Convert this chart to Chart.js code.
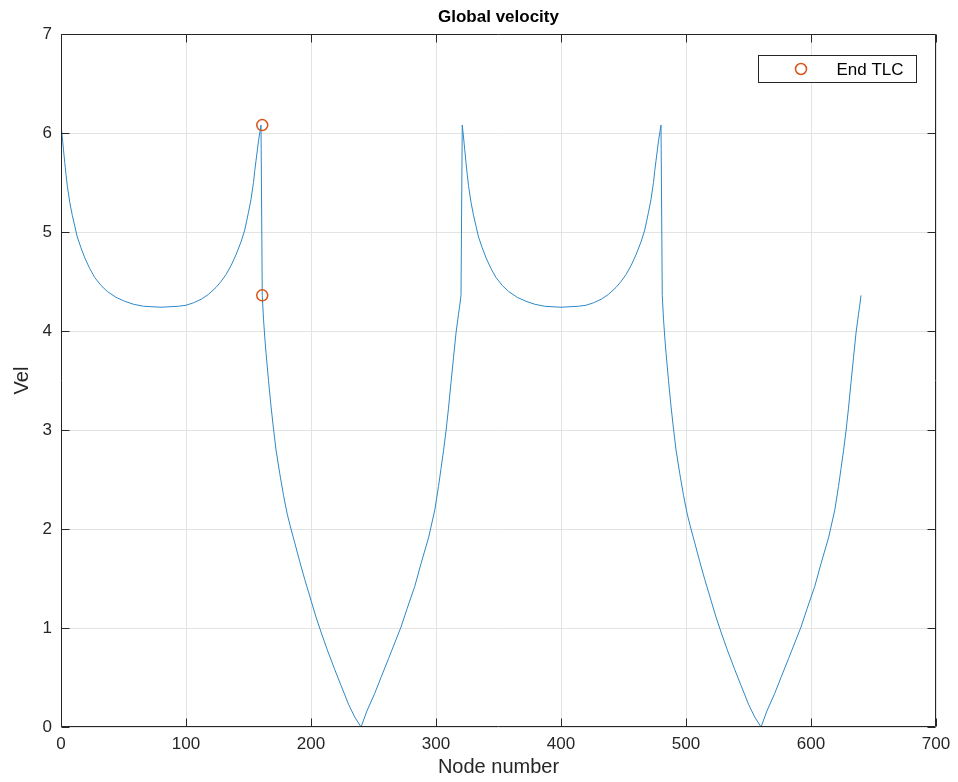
<!DOCTYPE html>
<html>
<head>
<meta charset="utf-8">
<title>Global velocity</title>
<script src="https://cdn.jsdelivr.net/npm/chart.js@4"></script>
<style>
  html, body { margin: 0; padding: 0; background: #fff; }
</style>
</head>
<body>
<canvas id="velChart" width="958" height="782"></canvas>
<script>
// node number / velocity (U arc, drop, V, jump, ...)
const nodes = [
  0, 1, 2, 3, 4, 5, 7, 9, 11, 13, 16, 19, 23, 27, 32, 37, 44, 51, 58, 66, 80,
  94, 100, 106, 112, 118, 124, 128, 132, 136, 140, 144, 147, 150, 152, 154, 155, 156, 157, 158, 159, 160,
  161, 162, 163, 164, 166, 168, 170, 172, 175, 178, 181, 184, 187, 191, 195, 200, 204, 208, 213, 219, 224, 230, 235, 240,
  245, 251, 256, 262, 267, 272, 277, 283, 288, 294, 299, 302, 304, 306, 308, 310, 312, 314, 316, 318, 319, 320,
  321, 322, 323, 324, 325, 326, 328, 330, 332, 334, 337, 340, 344, 348, 353, 358, 365, 372, 379, 387, 400,
  414, 420, 426, 432, 438, 444, 448, 452, 456, 460, 464, 467, 470, 472, 474, 475, 476, 477, 478, 479, 480,
  481, 482, 483, 484, 486, 488, 490, 492, 495, 498, 501, 504, 507, 511, 515, 520, 524, 528, 533, 539, 544, 550, 555, 560,
  565, 571, 576, 582, 587, 592, 597, 603, 608, 614, 619, 622, 624, 626, 628, 630, 632, 634, 636, 638, 639, 640
];
const vel = [
  6.08, 5.96, 5.83, 5.70, 5.58, 5.47, 5.30, 5.17, 5.06, 4.95, 4.84, 4.74, 4.63, 4.54, 4.46, 4.40, 4.34, 4.30, 4.27, 4.25, 4.24,
  4.25, 4.26, 4.285, 4.32, 4.37, 4.44, 4.50, 4.57, 4.66, 4.77, 4.90, 5.02, 5.20, 5.33, 5.50, 5.62, 5.72, 5.82, 5.92, 6.00, 6.08,
  4.36, 4.12, 3.94, 3.78, 3.50, 3.24, 3.01, 2.80, 2.56, 2.34, 2.15, 2.00, 1.86, 1.67, 1.49, 1.28, 1.11, 0.96, 0.78, 0.58, 0.42, 0.23, 0.10, 0.00,
  0.17, 0.34, 0.50, 0.69, 0.85, 1.01, 1.20, 1.42, 1.65, 1.91, 2.19, 2.43, 2.61, 2.79, 2.99, 3.22, 3.48, 3.73, 3.98, 4.17, 4.26, 4.36,
  6.08, 5.96, 5.83, 5.70, 5.58, 5.47, 5.30, 5.17, 5.06, 4.95, 4.84, 4.74, 4.63, 4.54, 4.46, 4.40, 4.34, 4.30, 4.27, 4.25, 4.24,
  4.25, 4.26, 4.285, 4.32, 4.37, 4.44, 4.50, 4.57, 4.66, 4.77, 4.90, 5.02, 5.20, 5.33, 5.50, 5.62, 5.72, 5.82, 5.92, 6.00, 6.08,
  4.36, 4.12, 3.94, 3.78, 3.50, 3.24, 3.01, 2.80, 2.56, 2.34, 2.15, 2.00, 1.86, 1.67, 1.49, 1.28, 1.11, 0.96, 0.78, 0.58, 0.42, 0.23, 0.10, 0.00,
  0.17, 0.34, 0.50, 0.69, 0.85, 1.01, 1.20, 1.42, 1.65, 1.91, 2.19, 2.43, 2.61, 2.79, 2.99, 3.22, 3.48, 3.73, 3.98, 4.17, 4.26, 4.36
];

// End TLC markers
const tlcNodes = [161, 161];
const tlcVel = [6.08, 4.36];

const xTicks = [0, 100, 200, 300, 400, 500, 600, 700];
const yTicks = [0, 1, 2, 3, 4, 5, 6, 7];

const FONT = "'Liberation Sans', Helvetica, Arial, sans-serif";
const AXIS = '#262626';
const BLUE = '#2e88c6';
const ORANGE = '#D95319';

// matlab style box, inward ticks on all four sides, and the legend
const frame = {
  id: 'frame',
  afterDraw(chart) {
    const { ctx, chartArea: a, scales: { x, y } } = chart;
    const L = a.left + 0.5, R = a.right - 0.5, T = a.top + 0.5, B = a.bottom - 0.5;
    ctx.save();
    ctx.strokeStyle = AXIS;
    ctx.lineWidth = 1;
    ctx.beginPath();
    ctx.rect(L, T, R - L, B - T);
    const tl = 8;
    xTicks.forEach(v => {
      const px = Math.round(x.getPixelForValue(v)) + 0.5;
      ctx.moveTo(px, B); ctx.lineTo(px, B - tl);
      ctx.moveTo(px, T); ctx.lineTo(px, T + tl);
    });
    yTicks.forEach(v => {
      const py = Math.round(y.getPixelForValue(v)) + 0.5;
      ctx.moveTo(L, py); ctx.lineTo(L + tl, py);
      ctx.moveTo(R, py); ctx.lineTo(R - tl, py);
    });
    ctx.stroke();

    // legend
    const lw = 158, lh = 27;
    const lx = Math.round(a.right - 20 - lw) + 0.5;
    const ly = Math.round(a.top + 21) + 0.5;
    ctx.fillStyle = '#fff';
    ctx.fillRect(lx, ly, lw, lh);
    ctx.strokeStyle = AXIS;
    ctx.strokeRect(lx, ly, lw, lh);
    ctx.beginPath();
    ctx.strokeStyle = ORANGE;
    ctx.lineWidth = 1.5;
    ctx.arc(lx + 42.5, ly + lh / 2, 5.5, 0, Math.PI * 2);
    ctx.stroke();
    ctx.fillStyle = '#000';
    ctx.font = '17px ' + FONT;
    ctx.textBaseline = 'middle';
    ctx.textAlign = 'left';
    ctx.fillText('End TLC', lx + 78, ly + lh / 2 + 1);
    ctx.restore();
  }
};

new Chart(document.getElementById('velChart'), {
  type: 'line',
  data: {
    datasets: [
      {
        label: 'End TLC',
        type: 'scatter',
        data: tlcNodes.map((n, i) => ({ x: n, y: tlcVel[i] })),
        showLine: false,
        pointStyle: 'circle',
        pointRadius: 5.5,
        pointBorderWidth: 1.5,
        pointBorderColor: ORANGE,
        pointBackgroundColor: 'rgba(0,0,0,0)',
        order: 0
      },
      {
        label: 'Vel',
        data: nodes.map((n, i) => ({ x: n, y: vel[i] })),
        borderColor: BLUE,
        borderWidth: 1,
        pointRadius: 0,
        tension: 0,
        fill: false,
        order: 1
      }
    ]
  },
  options: {
    responsive: false,
    devicePixelRatio: 1,
    animation: false,
    layout: { padding: { left: 0, right: 22, top: 0, bottom: 0 } },
    plugins: {
      legend: { display: false },
      tooltip: { enabled: false },
      title: {
        display: true,
        text: 'Global velocity',
        fullSize: false,
        color: '#000',
        font: { family: FONT, size: 17, weight: 'bold' },
        padding: { top: 7, bottom: 6.6 }
      }
    },
    scales: {
      x: {
        type: 'linear',
        min: 0,
        max: 700,
        afterBuildTicks: s => { s.ticks = xTicks.map(v => ({ value: v })); },
        afterFit: s => { s.height = 55; },
        grid: { color: '#e3e3e3', drawTicks: false },
        border: { display: false },
        ticks: {
          padding: 7,
          color: AXIS,
          maxRotation: 0,
          autoSkip: false,
          font: { family: FONT, size: 17 }
        },
        title: {
          display: true,
          text: 'Node number',
          color: AXIS,
          font: { family: FONT, size: 20 },
          padding: { top: 0, bottom: 3 }
        }
      },
      y: {
        type: 'linear',
        min: 0,
        max: 7,
        afterBuildTicks: s => { s.ticks = yTicks.map(v => ({ value: v })); },
        afterFit: s => { s.width = 61; },
        grid: { color: '#e3e3e3', drawTicks: false },
        border: { display: false },
        ticks: {
          padding: 9,
          color: AXIS,
          font: { family: FONT, size: 17 }
        },
        title: {
          display: true,
          text: 'Vel',
          color: AXIS,
          font: { family: FONT, size: 20 },
          padding: { top: 10, bottom: 0 }
        }
      }
    }
  },
  plugins: [frame]
});
</script>
</body>
</html>
